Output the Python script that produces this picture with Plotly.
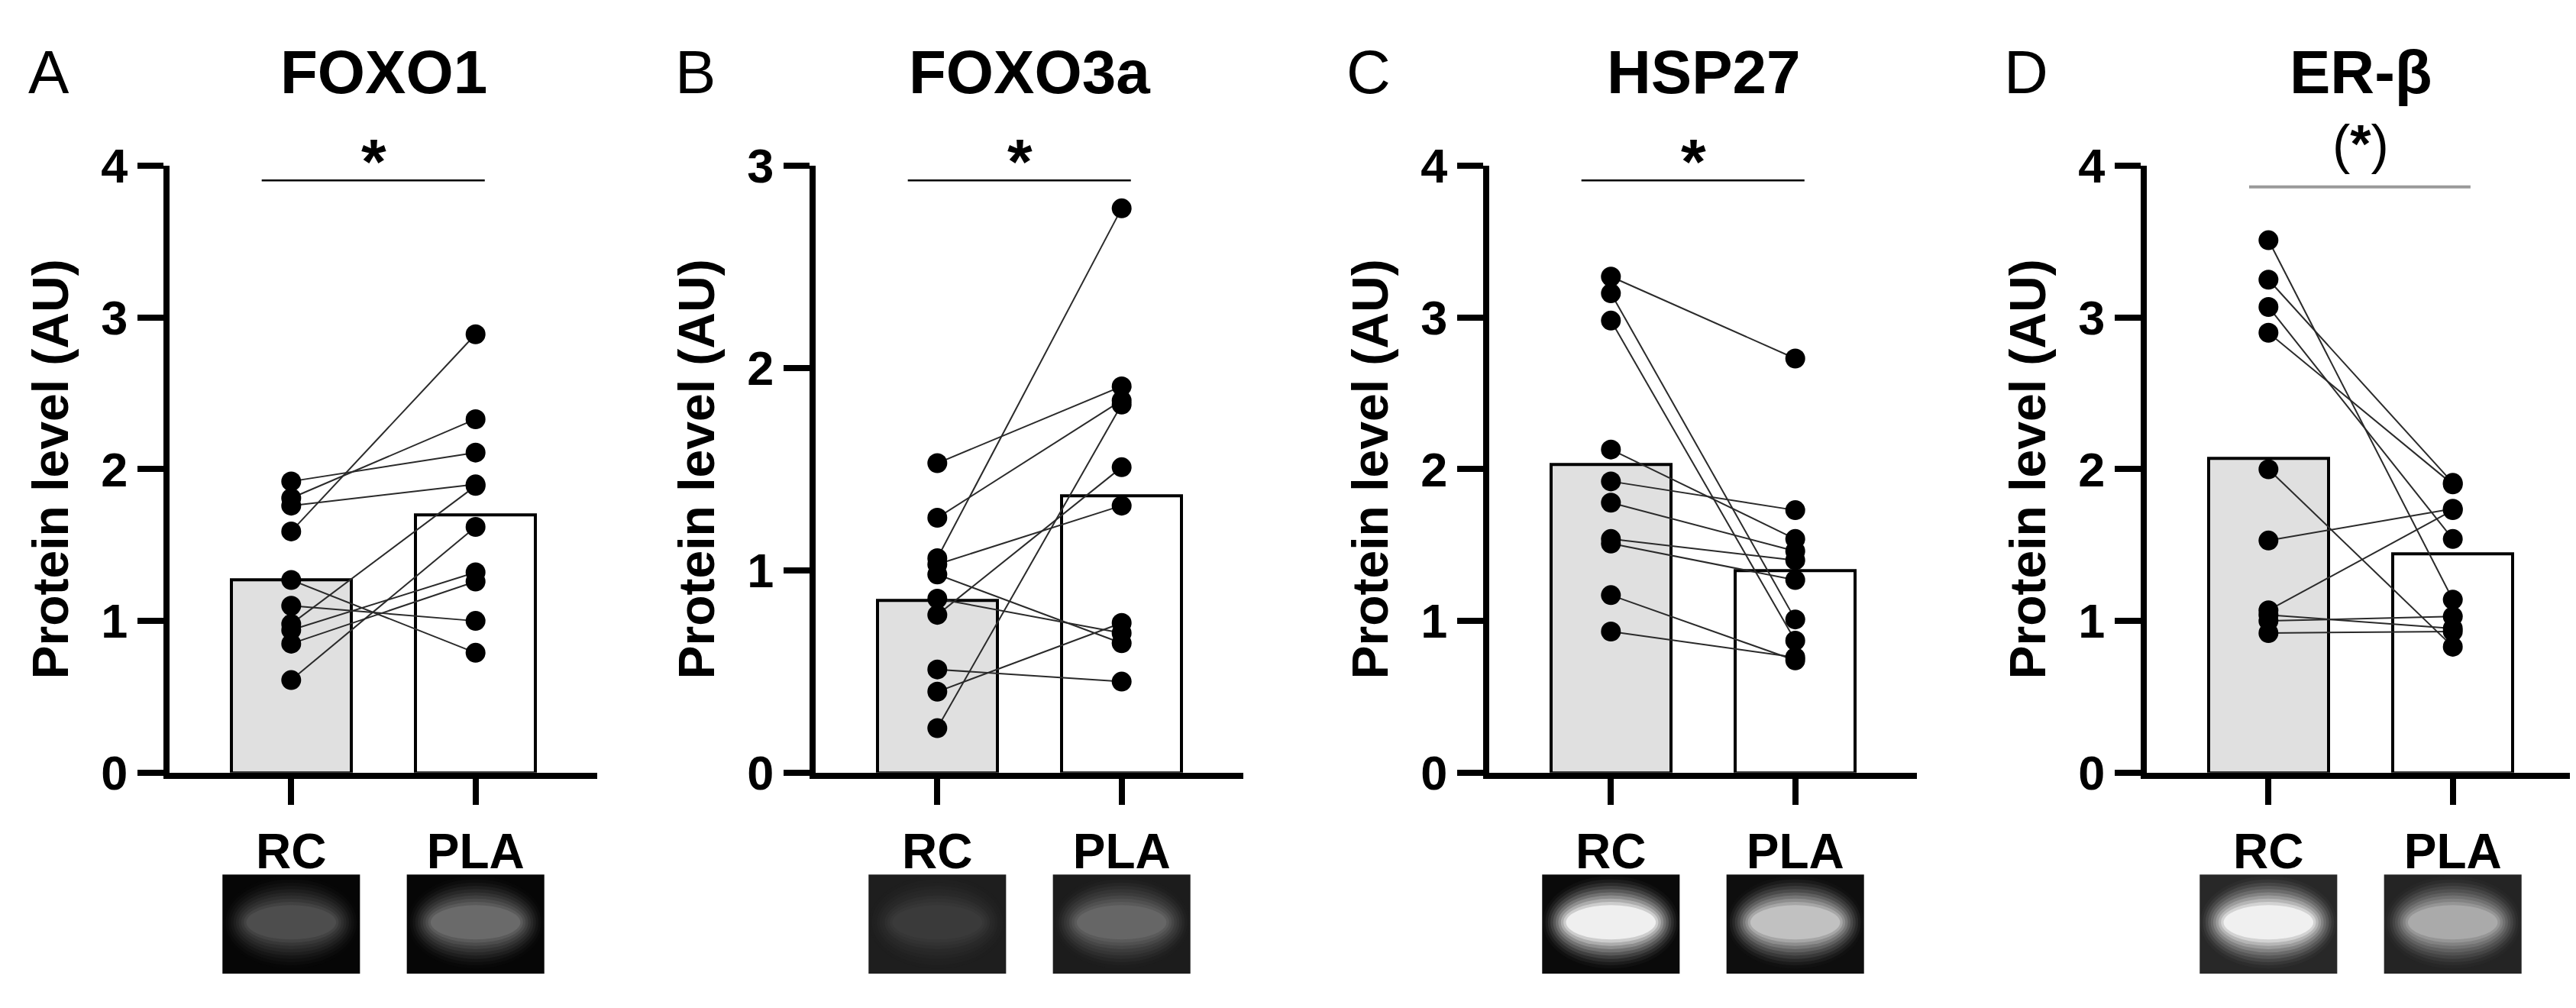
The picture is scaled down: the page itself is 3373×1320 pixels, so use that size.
import plotly.graph_objects as go

# ---- data ----
groups = ["RC", "PLA"]
titles = ["FOXO1", "FOXO3a", "HSP27", "ER-β"]
letters = ["A", "B", "C", "D"]
stars = ["*", "*", "*", "(<b>*</b>)"]
y_max = [4, 3, 4, 4]

foxo1_rc = [1.92, 1.81, 1.76, 1.59, 1.27, 1.10, 0.98, 0.94, 0.85, 0.61]
foxo1_pla = [2.11, 2.33, 1.90, 2.89, 0.79, 1.00, 1.89, 1.32, 1.26, 1.62]
foxo1_bar = [1.27, 1.70]

foxo3a_rc = [1.53, 1.26, 1.06, 1.03, 0.98, 0.86, 0.78, 0.51, 0.40, 0.22]
foxo3a_pla = [1.91, 1.84, 2.79, 1.32, 0.64, 0.69, 1.51, 0.45, 0.74, 1.82]
foxo3a_bar = [0.85, 1.37]

hsp27_rc = [3.27, 3.16, 2.98, 2.13, 1.92, 1.78, 1.54, 1.51, 1.17, 0.93]
hsp27_pla = [2.73, 1.01, 0.87, 1.54, 1.73, 1.46, 1.40, 1.27, 0.74, 0.76]
hsp27_bar = [2.03, 1.33]

erb_rc = [3.51, 3.25, 3.07, 2.90, 2.00, 1.53, 1.07, 1.04, 1.00, 0.92]
erb_pla = [1.14, 1.91, 1.54, 1.90, 0.83, 1.74, 1.73, 0.95, 1.03, 0.93]
erb_bar = [2.07, 1.44]

panels = [
    (foxo1_rc, foxo1_pla, foxo1_bar),
    (foxo3a_rc, foxo3a_pla, foxo3a_bar),
    (hsp27_rc, hsp27_pla, hsp27_bar),
    (erb_rc, erb_pla, erb_bar),
]

# western blot band look (background grey, peak grey) for RC / PLA
blot_levels = [
    [(6, 80), (6, 110)],
    [(30, 60), (28, 105)],
    [(10, 248), (14, 200)],
    [(40, 248), (36, 175)],
]

# ---- layout constants (pixels) ----
W, H = 3373, 1320
FONT = "Arial, Liberation Sans, sans-serif"
axis_left_px = [214, 1060, 1942, 2803]
axis_width_px = 560
y_top_px, y_bot_px = 184, 1023
x_range = [-0.66, 1.66]


def py(px):
    """pixel row -> paper y"""
    return 1 - px / H


fig = go.Figure()

for i, (rc, pla, bar) in enumerate(panels):
    n = "" if i == 0 else str(i + 1)
    xa, ya = "x" + n, "y" + n

    fig.add_trace(go.Bar(
        x=[0, 1], y=bar, width=0.65,
        marker=dict(color=["#e0e0e0", "white"], line=dict(color="black", width=4)),
        xaxis=xa, yaxis=ya, showlegend=False, hoverinfo="skip"))

    lx, ly = [], []
    for a, b in zip(rc, pla):
        lx += [0, 1, None]
        ly += [a, b, None]
    fig.add_trace(go.Scatter(
        x=lx, y=ly, mode="lines", line=dict(color="#2a2a2a", width=2),
        xaxis=xa, yaxis=ya, showlegend=False, hoverinfo="skip"))

    fig.add_trace(go.Scatter(
        x=[0] * len(rc) + [1] * len(pla), y=rc + pla, mode="markers",
        marker=dict(color="black", size=26),
        xaxis=xa, yaxis=ya, showlegend=False, cliponaxis=False))

    x0 = axis_left_px[i] / W
    x1 = (axis_left_px[i] + axis_width_px) / W
    common = dict(showgrid=False, zeroline=False, showline=True, linecolor="black",
                  linewidth=8, ticks="outside", ticklen=34, tickwidth=8, tickcolor="black")
    fig.update_layout(**{
        "xaxis" + n: dict(domain=[x0, x1], range=x_range, anchor=ya,
                          tickvals=[0, 1], ticktext=groups, ticklabelstandoff=6,
                          tickfont=dict(family=FONT, size=64, color="black", weight="bold"),
                          **common),
        "yaxis" + n: dict(domain=[py(y_bot_px), py(y_top_px)], range=[0, y_max[i]],
                          anchor=xa, dtick=1,
                          tickfont=dict(family=FONT, size=63, color="black", weight="bold"),
                          **common),
    })

    mid = (x0 + x1) / 2
    fig.add_annotation(xref="paper", yref="paper", x=mid, y=py(54), text=titles[i],
                       xanchor="center", yanchor="middle", showarrow=False,
                       font=dict(family=FONT, size=80, color="black", weight="bold"))
    fig.add_annotation(xref="paper", yref="paper", x=(axis_left_px[i] - 158) / W, y=py(54),
                       text=letters[i], xanchor="center", yanchor="middle", showarrow=False,
                       font=dict(family=FONT, size=80, color="black"))
    fig.add_annotation(xref="paper", yref="paper", x=(axis_left_px[i] - 156) / W,
                       y=py((y_top_px + y_bot_px) / 2), text="Protein level (AU)",
                       textangle=-90, xanchor="center", yanchor="middle", showarrow=False,
                       font=dict(family=FONT, size=66, color="black", weight="bold"))

    # significance bracket and star
    if i < 3:
        fig.add_shape(type="line", xref=xa, yref="paper", x0=-0.16, x1=1.05,
                      y0=py(204), y1=py(204), line=dict(color="black", width=2.5))
        fig.add_annotation(xref=xa, yref="paper", x=0.45, y=py(178), text=stars[i],
                           xanchor="center", yanchor="middle", showarrow=False,
                           font=dict(family=FONT, size=84, color="black", weight="bold"))
    else:
        fig.add_shape(type="line", xref=xa, yref="paper", x0=-0.105, x1=1.096,
                      y0=py(213), y1=py(213), line=dict(color="#9a9a9a", width=4))
        fig.add_annotation(xref=xa, yref="paper", x=0.5, y=py(154), text=stars[i],
                           xanchor="center", yanchor="middle", showarrow=False,
                           font=dict(family=FONT, size=70, color="black"))

    # blot images below the axis
    for c in range(2):
        bg, peak = blot_levels[i][c]
        fig.add_shape(type="rect", xref=xa, yref="paper", x0=c - 0.373, x1=c + 0.373,
                      y0=py(1301), y1=py(1164),
                      fillcolor=f"rgb({bg},{bg},{bg})", line=dict(width=0), layer="above")
        steps = 10
        cy = py(1230)
        for k in range(steps):
            f = (k + 1) / steps
            rx = 0.37 * (1 - 0.38 * k / steps)
            ry = (64 / H) * (1 - 0.7 * k / steps)
            g = int(bg + (peak - bg) * f ** 1.5)
            fig.add_shape(type="circle", xref=xa, yref="paper",
                          x0=c - rx, x1=c + rx, y0=cy - ry, y1=cy + ry,
                          fillcolor=f"rgb({g},{g},{g})", line=dict(width=0),
                          opacity=0.8, layer="above")

fig.update_layout(width=W, height=H, margin=dict(l=0, r=0, t=0, b=0),
                  paper_bgcolor="white", plot_bgcolor="white", bargap=0)

fig.write_html("out.html")
